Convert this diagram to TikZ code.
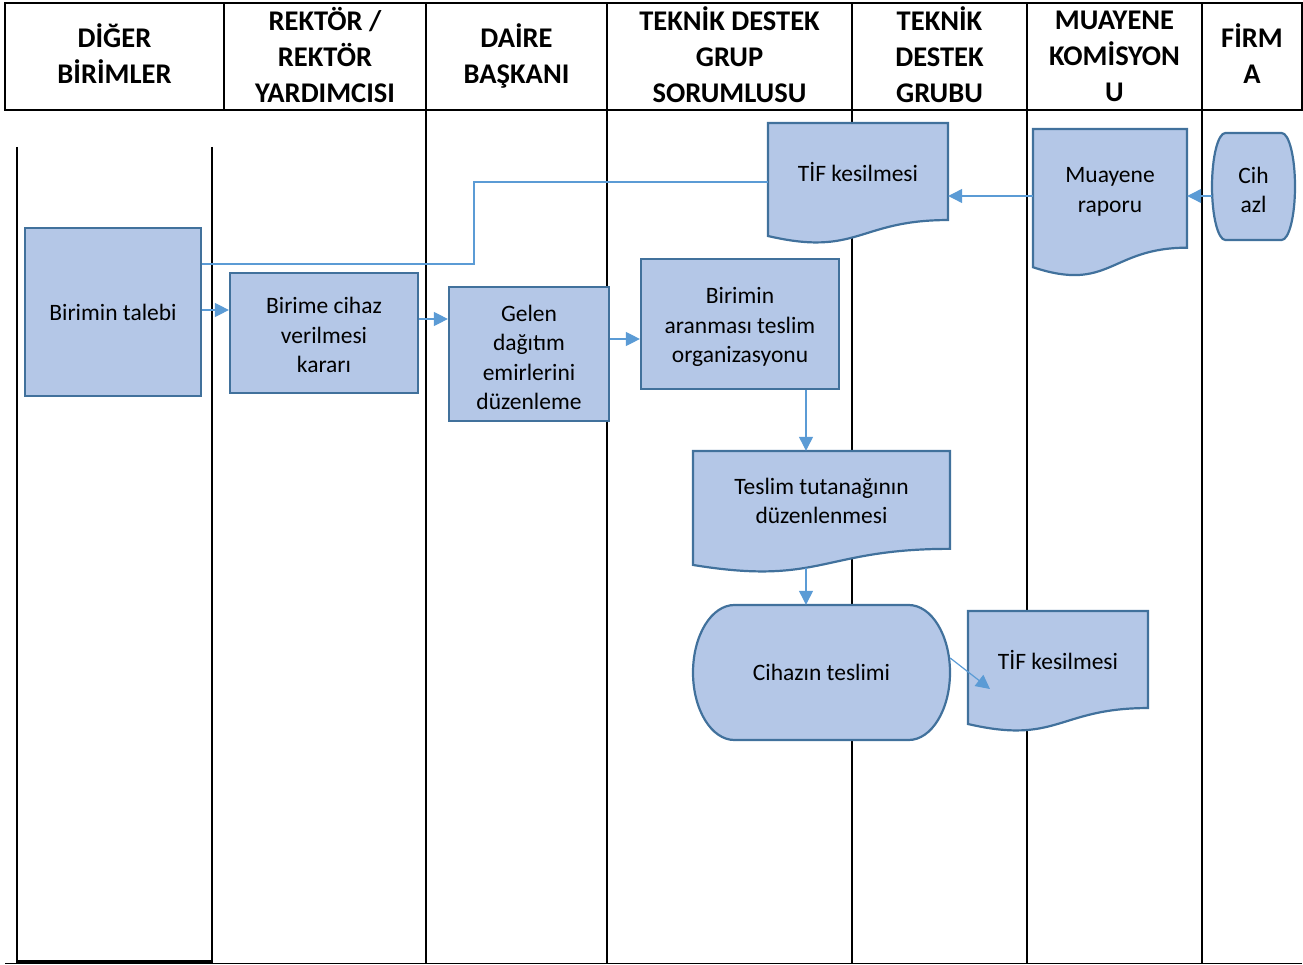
\documentclass[tikz,border=0pt]{standalone}
\usepackage{fontspec}
\setmainfont{Carlito}
\usetikzlibrary{arrows.meta,calc}

\definecolor{boxfill}{HTML}{B4C7E7}
\definecolor{boxline}{HTML}{41719C}
\definecolor{flowline}{HTML}{5B9BD5}

\newcommand\boxfont{\fontsize{23.5}{29.5}\selectfont}

\tikzset{
  lane/.style={line width=2pt, black},
  headcell/.style={font=\bfseries\fontsize{28.5}{36}\selectfont, align=center, inner sep=0pt},
  shapeline/.style={draw=boxline, fill=boxfill, line width=2.2pt},
  proc/.style={shapeline, inner sep=0pt, align=center, font=\boxfont},
  boxtext/.style={inner sep=0pt, align=center, font=\boxfont},
  conn/.style={draw=flowline, line width=1.2pt, -{Triangle[length=14pt,width=14pt]}},
  plainconn/.style={draw=flowline, line width=1.2pt},
}

% document symbol: [text options], name, left, top, width, height, text
\newcommand\docnode[7][]{%
  \pgfmathsetmacro\docRy{#4+0.802*#6}%
  \pgfmathsetmacro\docLy{#4+0.934*#6}%
  \pgfmathsetmacro\docCy{#4+1.107*#6}%
  \pgfmathsetmacro\docRx{#3+#5}%
  \pgfmathsetmacro\docMx{#3+#5/2}%
  \pgfmathsetmacro\docTy{#4+0.401*#6}%
  \pgfmathsetmacro\docTh{0.802*#6}%
  \draw[shapeline] (#3,#4) -- (\docRx,#4) -- (\docRx,\docRy)
    .. controls (\docMx,\docRy) and (\docMx,\docCy) .. (#3,\docLy) -- cycle;
  \node[boxtext, minimum width=#5pt, minimum height=\docTh pt] (#2) at (\docMx,\docTy) {};
  \node[boxtext, #1] (#2-txt) at (#2.center) {#7};
}

% terminator symbol: [text options], name, left, top, width, height, text
\newcommand\termnode[7][]{%
  \pgfmathsetmacro\trmRx{0.161*#5}%
  \pgfmathsetmacro\trmRy{#6/2}%
  \pgfmathsetmacro\trmA{#3+\trmRx}%
  \pgfmathsetmacro\trmB{#3+#5-\trmRx}%
  \pgfmathsetmacro\trmR{#3+#5}%
  \pgfmathsetmacro\trmM{#4+\trmRy}%
  \pgfmathsetmacro\trmBot{#4+#6}%
  \pgfmathsetmacro\trmK{0.5523*\trmRx}%
  \pgfmathsetmacro\trmKy{0.5523*\trmRy}%
  \pgfmathsetmacro\trmCx{#3+#5/2}%
  \draw[shapeline] (\trmA,#4) -- (\trmB,#4)
    .. controls ({\trmB+\trmK},#4) and (\trmR,{\trmM-\trmKy}) .. (\trmR,\trmM)
    .. controls (\trmR,{\trmM+\trmKy}) and ({\trmB+\trmK},\trmBot) .. (\trmB,\trmBot)
    -- (\trmA,\trmBot)
    .. controls ({\trmA-\trmK},\trmBot) and (#3,{\trmM+\trmKy}) .. (#3,\trmM)
    .. controls (#3,{\trmM-\trmKy}) and ({\trmA-\trmK},#4) .. (\trmA,#4) -- cycle;
  \node[boxtext, minimum width=#5pt, minimum height=#6pt] (#2) at (\trmCx,\trmM) {};
  \node[boxtext, #1] (#2-txt) at (#2.center) {#7};
}

\begin{document}
\begin{tikzpicture}[x=1pt, y=-1pt]
\useasboundingbox (0,0) rectangle (1303,965);

% ---- header row ----
\draw[lane] (5,3) rectangle (1302,110);
\foreach \xx in {224,426,607,852,1027,1202}
  \draw[lane] (\xx,3) -- (\xx,110);

\node[headcell, yshift=2.5pt] (hdiger)  at (114.5,56.5) {DİĞER\\BİRİMLER};
\node[headcell, yshift=1pt]   (hrektor) at (325,56.5)   {REKTÖR /\\REKTÖR\\YARDIMCISI};
\node[headcell, yshift=1pt]   (hdaire)  at (516.5,56.5) {DAİRE\\BAŞKANI};
\node[headcell, yshift=2pt]   (htdgs)   at (729.5,56.5) {TEKNİK DESTEK\\GRUP\\SORUMLUSU};
\node[headcell, yshift=2pt]   (htdg)    at (939.5,56.5) {TEKNİK\\DESTEK\\GRUBU};
\node[headcell]               (hmuay)   at (1114.5,56.5){MUAYENE\\KOMİSYON\\U};
\node[headcell, yshift=2.5pt] (hfirma)  at (1252,56.5)  {FİRM\\A};

% ---- swimlane lines ----
\draw[lane] (17,147) -- (17,963);
\draw[lane] (212,147) -- (212,963);
\foreach \xx in {426,607,852,1027,1202}
  \draw[lane] (\xx,110) -- (\xx,963);
\draw[line width=1.6pt] (5,963.5) -- (1302,963.5);
\draw[line width=4pt] (17,961.5) -- (212,961.5);

% ---- process boxes ----
\node[proc, minimum width=176pt, minimum height=168pt] (talep)  at (113,312) {Birimin talebi};
\node[proc, minimum width=188pt, minimum height=120pt] (karar)  at (324,333) {};
\node[boxtext, yshift=-2pt] (karar-txt) at (karar.center) {Birime cihaz\\verilmesi\\kararı};
\node[proc, minimum width=160pt, minimum height=134pt] (gelen)  at (529,354) {};
\node[boxtext, yshift=-3.5pt] (gelen-txt) at (gelen.center) {Gelen\\dağıtım\\emirlerini\\düzenleme};
\node[proc, minimum width=198pt, minimum height=130pt] (aranma) at (740,324) {};
\node[boxtext, yshift=-3pt] (aranma-txt) at (aranma.center) {Birimin\\aranması teslim\\organizasyonu};

% ---- document and terminator symbols ----
\docnode{tifust}{768}{123}{180}{121}{TİF kesilmesi}
\docnode[yshift=-3.5pt]{muayene}{1033}{129}{154}{148}{Muayene\\raporu}
\docnode[yshift=-1pt]{tutanak}{693}{451}{257}{122}{Teslim tutanağının\\düzenlenmesi}
\docnode{tifalt}{968}{611}{180}{121}{TİF kesilmesi}
\termnode[yshift=-3.5pt]{cihazlar}{1212}{133}{83}{107}{Cih\\azl}
\termnode{teslim}{693}{605}{257}{135}{Cihazın teslimi}

% ---- connectors ----
\coordinate (rowtop) at (0,196);
\coordinate (rowtif) at (0,182);
\coordinate (jog)    at (474,264);
\coordinate (colx)   at (806,0);
\coordinate (tutbot) at (806,568);
\coordinate (tifin)  at (990,689);

\draw[conn] (cihazlar.west |- rowtop) -- (muayene.east |- rowtop);
\draw[conn] (muayene.west |- rowtop) -- (tifust.east |- rowtop);
\draw[plainconn] (tifust.west |- rowtif) -| (jog) -- (talep.east |- jog);
\draw[conn] ([yshift=2pt]talep.east) -- ([yshift=2pt]karar.west |- talep.east);
\draw[conn] (karar.east |- 0,319) -- (gelen.west |- 0,319);
\draw[conn] (gelen.east |- 0,339) -- (aranma.west |- 0,339);
\draw[conn] (aranma.south -| colx) -- (tutanak.north -| colx);
\draw[conn] (tutbot) -- (teslim.north -| colx);
\draw[conn] ([yshift=14.5pt]teslim.east) -- (tifin);

\end{tikzpicture}
\end{document}
